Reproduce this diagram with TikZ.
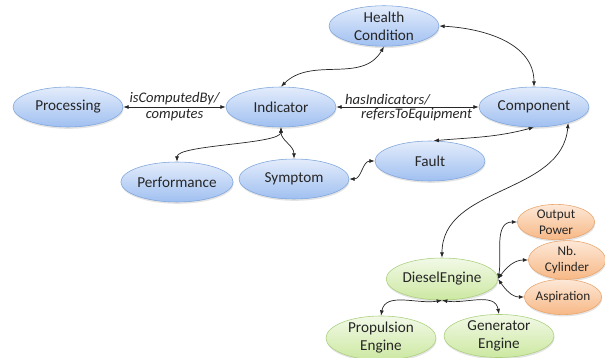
\documentclass[tikz,border=0pt]{standalone}
\usepackage{fontspec}
\setmainfont{Carlito}
\usetikzlibrary{positioning, shapes.geometric, shadows, arrows.meta}

\definecolor{blueTop}{HTML}{E3ECFB}
\definecolor{blueBottom}{HTML}{A0C0F1}
\definecolor{blueEdge}{HTML}{7EA5DC}
\definecolor{greenTop}{HTML}{F2F9E7}
\definecolor{greenBottom}{HTML}{CCE8A1}
\definecolor{greenEdge}{HTML}{A9D07C}
\definecolor{orangeTop}{HTML}{FDE8D7}
\definecolor{orangeBottom}{HTML}{F7B886}
\definecolor{orangeEdge}{HTML}{E9A56C}

\begin{document}
\begin{tikzpicture}[]
        \tikzset{
            <->,  % every link goes both ways
            >={Latex[length=3.8pt, width=2.8pt]}, % small filled heads
            node distance=2.5cm, % base distance, each node shifts from it
            every node/.style={text=black!85, align=center},
            bubble/.style={ellipse, inner sep=0pt, drop shadow={opacity=0.22, shadow xshift=0.4pt, shadow yshift=-1.3pt}},
            concept/.style={bubble, draw=blueEdge, top color=blueTop, bottom color=blueBottom, minimum width=2.75cm, minimum height=1cm, font=\fontsize{10.8}{12.8}\selectfont},
            engine/.style={bubble, draw=greenEdge, top color=greenTop, bottom color=greenBottom, minimum width=2.75cm, minimum height=1.05cm, font=\fontsize{10.8}{12.8}\selectfont},
            attribute/.style={bubble, draw=orangeEdge, top color=orangeTop, bottom color=orangeBottom, minimum width=1.93cm, minimum height=0.88cm, font=\fontsize{9.4}{11.4}\selectfont},
            role/.style={font=\fontsize{10.4}{12}\selectfont\itshape, inner sep=1pt}, % edge names
            every edge/.style={draw=black!85, line width=0.5pt},
            }

        \useasboundingbox (-7.025,2.675) rectangle (8.1,-6.275);

        % nodes
        \node[concept] (indicator) {Indicator};
        \node[concept, left of=indicator, xshift=-2.825cm] (processing) {Processing};
        \node[concept, right of=indicator, xshift=3.825cm] (component) {Component};
        \node[concept, above of=indicator, xshift=2.575cm, yshift=-0.475cm] (health) {Health\\Condition};
        \node[concept, below of=indicator, xshift=0.325cm, yshift=0.7cm] (symptom) {Symptom};
        \node[concept, left of=symptom, xshift=-0.425cm, yshift=-0.075cm] (performance) {Performance};
        \node[concept, right of=symptom, xshift=0.9cm, yshift=0.45cm] (fault) {Fault};
        \node[engine, below of=fault, xshift=0.3cm, yshift=-0.45cm] (diesel) {DieselEngine};
        \node[engine, below of=diesel, xshift=-1.525cm, yshift=1.025cm] (propulsion) {Propulsion\\Engine};
        \node[engine, right of=propulsion, xshift=0.45cm, yshift=0.05cm] (generator) {Generator\\Engine};
        \node[attribute, right of=diesel, xshift=0.35cm, yshift=1.425cm] (power) {Output\\Power};
        \node[attribute, right of=diesel, xshift=0.625cm, yshift=0.475cm] (cylinder) {Nb.\\Cylinder};
        \node[attribute, right of=diesel, xshift=0.525cm, yshift=-0.45cm] (aspiration) {Aspiration};

        % indicator paths
        \path (processing) edge node[role, above] {isComputedBy/} node[role, below] {computes} (indicator);
        \path (indicator) edge node[role, above, xshift=-0.5cm] {hasIndicators/} node[role, below, xshift=0.225cm] {refersToEquipment} (component);
        \path (indicator.north) edge[out=45, in=-120] (health.south);
        \path (indicator.south) edge[out=-90, in=90, looseness=0.4] (performance.north);
        \path (indicator.south) edge[out=-90, in=90] (symptom.north);

        % component paths
        \path (health.east) edge[out=-3, in=90] (component.north);
        \path (symptom.east) edge[out=0, in=180] (fault.west);
        \path (fault.80) edge[out=5, in=-165] (component.south);
        \path (component.-25) edge[out=-95, in=90] (diesel.north);

        % engine paths
        \path (diesel.east) edge[out=80, in=180] (power.west);
        \path (diesel.east) edge[out=55, in=180] (cylinder.west);
        \path (diesel.east) edge[out=-55, in=180] (aspiration.west);
        \path (diesel.south) edge[out=-170, in=80] (propulsion.north);
        \path (diesel.south) edge[out=-10, in=100] (generator.north);
    \end{tikzpicture}
\end{document}
